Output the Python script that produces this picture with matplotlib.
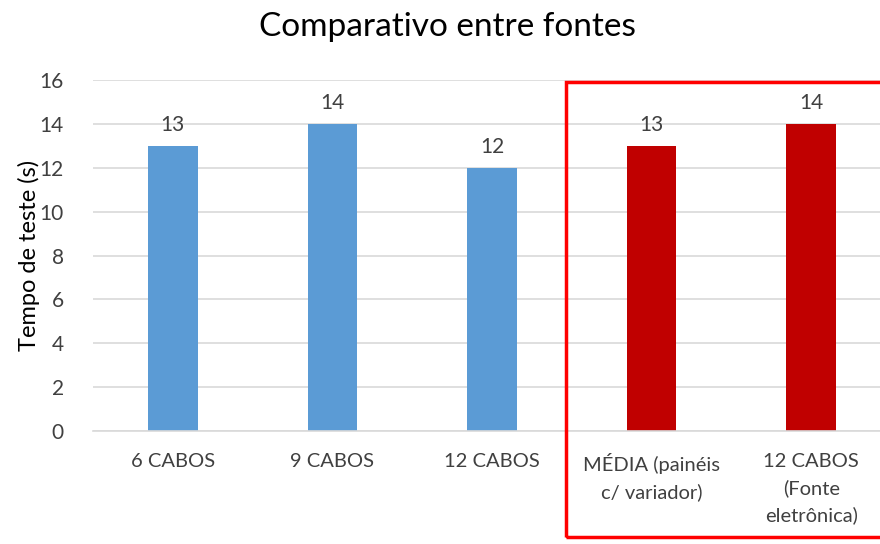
import matplotlib.pyplot as plt
from matplotlib.patches import Rectangle

categorias = ["6 CABOS", "9 CABOS", "12 CABOS", "MÉDIA (painéis\nc/ variador)", "12 CABOS\n(Fonte\neletrônica)"]
tempos = [13, 14, 12, 13, 14]
cores = ["#5B9BD5", "#5B9BD5", "#5B9BD5", "#C00000", "#C00000"]
yticks = [0, 2, 4, 6, 8, 10, 12, 14, 16]

plt.rcParams['font.family'] = ['Lato', 'DejaVu Sans']

fig = plt.figure(figsize=(8.8, 5.44), dpi=100)
W, H = 880, 544
# área do gráfico (passa um pouco da borda direita)
ax = fig.add_axes([93 / W, 1 - 431 / H, (891 - 93) / W, (431 - 80) / H])

x = list(range(len(categorias)))
ax.bar(x, tempos, width=0.31, color=cores, zorder=2)
for xi, t in zip(x, tempos):
    ax.text(xi, t + 0.5, str(t), ha="center", va="bottom", fontsize=15, color="#404040")

ax.set_xlim(-0.5, len(categorias) - 0.5)
ax.set_ylim(0, 16)
ax.set_yticks(yticks)
ax.set_xticks(x)
ax.set_xticklabels(categorias, fontsize=14.5, color="#404040", linespacing=1.6, va="top")
ax.tick_params(axis="y", labelsize=15, labelcolor="#404040", length=0, pad=21)
ax.tick_params(axis="x", length=0, pad=16)
ax.grid(axis="y", color="#D9D9D9", linewidth=1.2, zorder=0)
for s in ["top", "right", "left"]:
    ax.spines[s].set_visible(False)
ax.spines["bottom"].set_color("#D9D9D9")
ax.spines["bottom"].set_linewidth(1.2)

ax.set_ylabel("Tempo de teste (s)", fontsize=17, color="#000000", labelpad=0)
fig.text(447 / W, 1 - 27 / H, "Comparativo entre fontes", ha="center", va="center", fontsize=24)

# destaque em vermelho nas duas últimas colunas
fig.patches.append(Rectangle((566 / W, 1 - 537 / H), (900 - 566) / W, (537 - 82) / H,
                             transform=fig.transFigure, fill=False, edgecolor="#FF0000",
                             linewidth=2.5, zorder=5))

fig.savefig("out.png", dpi=100)
